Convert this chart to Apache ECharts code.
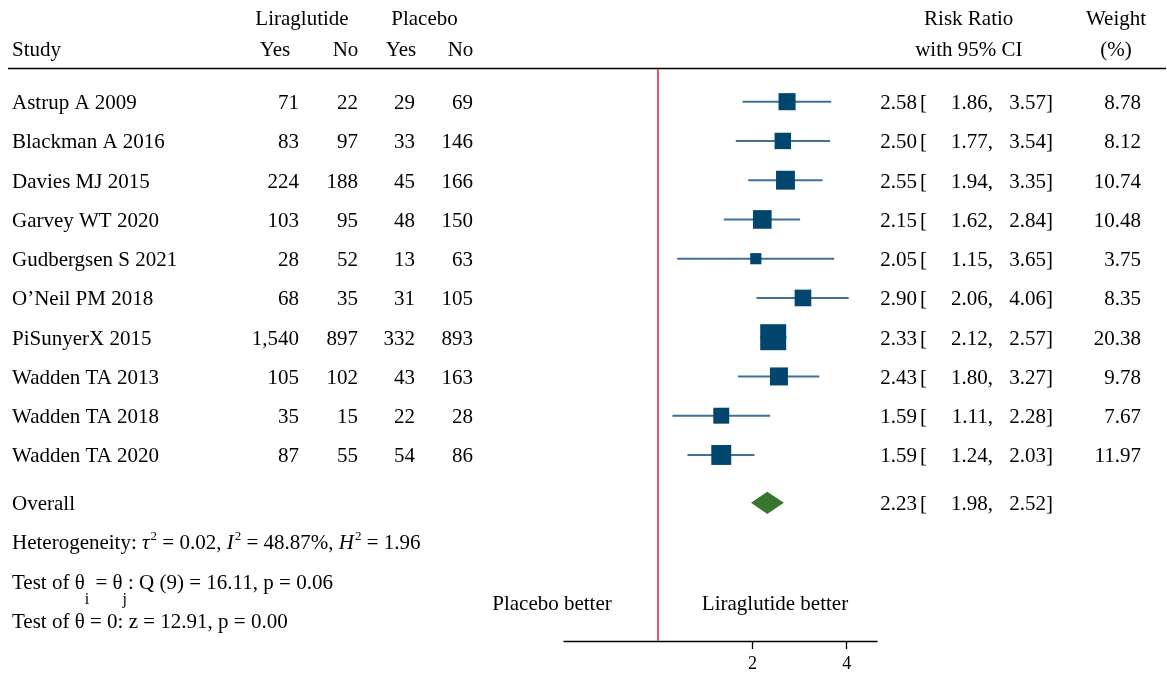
<!DOCTYPE html>
<html>
<head>
<meta charset="utf-8">
<script src="https://cdn.jsdelivr.net/npm/echarts@6/dist/echarts.min.js"></script>
<style>
html,body{margin:0;padding:0;background:#fff;}
#c{width:1167px;height:673px;}
</style>
</head>
<body>
<div id="c"></div>
<script>
// ---------------- data ----------------
const studies = ['Astrup A 2009', 'Blackman A 2016', 'Davies MJ 2015', 'Garvey WT 2020', 'Gudbergsen S 2021',
  'O\u2019Neil PM 2018', 'PiSunyerX 2015', 'Wadden TA 2013', 'Wadden TA 2018', 'Wadden TA 2020'];
const ligYes = [71, 83, 224, 103, 28, 68, 1540, 105, 35, 87];
const ligNo  = [22, 97, 188, 95, 52, 35, 897, 102, 15, 55];
const plaYes = [29, 33, 45, 48, 13, 31, 332, 43, 22, 54];
const plaNo  = [69, 146, 166, 150, 63, 105, 893, 163, 28, 86];
const rr     = [2.58, 2.50, 2.55, 2.15, 2.05, 2.90, 2.33, 2.43, 1.59, 1.59];
const ciLo   = [1.86, 1.77, 1.94, 1.62, 1.15, 2.06, 2.12, 1.80, 1.11, 1.24];
const ciHi   = [3.57, 3.54, 3.35, 2.84, 3.65, 4.06, 2.57, 3.27, 2.28, 2.03];
const weight = [8.78, 8.12, 10.74, 10.48, 3.75, 8.35, 20.38, 9.78, 7.67, 11.97];
const overallRR = [2.23];
const overallLo = [1.98];
const overallHi = [2.52];
const axisTicks = [2, 4];
const axisRange = [0.5, 5];

// ---------------- style ----------------
const FF = '"Liberation Serif","Times New Roman",serif';
const F21 = '21px ' + FF;
const NAVY = '#00466e';
const CI_COLOR = '#3f7095';
const GREEN = '#38752f';
const RED = '#e4405f';
const OVERALL_ROW = 10.22;

const L2 = v => Math.log2(v);
const chart = echarts.init(document.getElementById('c'), null, {renderer: 'canvas'});

const ciData = studies.map((s, i) => [L2(ciLo[i]), L2(ciHi[i]), i]);
const sqData = studies.map((s, i) => [L2(rr[i]), i, weight[i]]);
const diaData = overallRR.map((v, i) => [L2(overallLo[i]), L2(v), L2(overallHi[i]), OVERALL_ROW]);

chart.setOption({
  animation: false,
  grid: {left: 564, width: 313, top: 69, bottom: 32},
  xAxis: {
    type: 'value', min: L2(axisRange[0]), max: L2(axisRange[1]),
    position: 'bottom',
    splitLine: {show: false},
    axisLine: {onZero: false, lineStyle: {color: '#000', width: 1.3}},
    axisTick: {customValues: axisTicks.map(L2), length: 8, lineStyle: {color: '#000', width: 1.3}},
    axisLabel: {customValues: axisTicks.map(L2), formatter: v => String(Math.round(Math.pow(2, v))),
      fontFamily: FF, fontSize: 18, color: '#000', margin: 14}
  },
  yAxis: {type: 'value', inverse: true, min: -0.833, max: 13.74, show: false},
  series: [
    {
      type: 'custom', z: 2, silent: true,
      data: ciData,
      renderItem: function (params, api) {
        const y = api.value(2);
        const p1 = api.coord([api.value(0), y]);
        const p2 = api.coord([api.value(1), y]);
        return {type: 'line', shape: {x1: p1[0], y1: p1[1], x2: p2[0], y2: p2[1]},
          style: {stroke: CI_COLOR, lineWidth: 1.9}};
      }
    },
    {
      type: 'scatter', z: 3, silent: true,
      symbol: 'rect',
      data: sqData,
      symbolSize: d => 5.76 * Math.sqrt(d[2]),
      itemStyle: {color: NAVY, opacity: 1},
      markLine: {
        silent: true, symbol: ['none', 'none'], label: {show: false},
        lineStyle: {color: RED, width: 1.8, type: 'solid'},
        data: [{xAxis: L2(1)}]
      }
    },
    {
      type: 'custom', z: 3, silent: true,
      data: diaData,
      renderItem: function (params, api) {
        const y = api.value(3);
        const pL = api.coord([api.value(0), y]);
        const pC = api.coord([api.value(1), y]);
        const pR = api.coord([api.value(2), y]);
        const h = 11.2;
        return {type: 'polygon',
          shape: {points: [[pL[0], pL[1]], [pC[0], pC[1] - h], [pR[0], pR[1]], [pC[0], pC[1] + h]]},
          style: {fill: GREEN}};
      }
    }
  ]
});

// ---------------- text (table) ----------------
const rowY = i => chart.convertToPixel({yAxisIndex: 0}, i);
const g = [];
function txt(s, x, y, align, font) {
  g.push({type: 'text', silent: true,
    style: {text: s, x: x, y: y, font: font || F21, fill: '#000', textAlign: align || 'left', textVerticalAlign: 'middle'}});
}
const fmtInt = v => v.toLocaleString('en-US');

// header
txt('Liraglutide', 302, 19.5, 'center');
txt('Placebo', 424.5, 19.5, 'center');
txt('Study', 12, 50, 'left');
txt('Yes', 275, 50, 'center');
txt('No', 345.5, 50, 'center');
txt('Yes', 401, 50, 'center');
txt('No', 460.5, 50, 'center');
txt('Risk Ratio', 968.7, 19.5, 'center');
txt('with 95% CI', 968.8, 50, 'center');
txt('Weight', 1116, 19.5, 'center');
txt('(%)', 1116, 50, 'center');
g.push({type: 'line', silent: true, shape: {x1: 8, y1: 68.5, x2: 1166, y2: 68.5}, style: {stroke: '#000', lineWidth: 1.5}});

studies.forEach((s, i) => {
  const y = rowY(i) + 2;
  txt(s, 12, y, 'left');
  txt(fmtInt(ligYes[i]), 299, y, 'right');
  txt(fmtInt(ligNo[i]), 358, y, 'right');
  txt(fmtInt(plaYes[i]), 415, y, 'right');
  txt(fmtInt(plaNo[i]), 473, y, 'right');
  txt(rr[i].toFixed(2), 917, y, 'right');
  txt('[', 920, y, 'left');
  txt(ciLo[i].toFixed(2) + ',', 993, y, 'right');
  txt(ciHi[i].toFixed(2) + ']', 1053, y, 'right');
  txt(weight[i].toFixed(2), 1141, y, 'right');
});
{
  const y = rowY(OVERALL_ROW) + 2;
  txt('Overall', 12, y, 'left');
  txt(overallRR[0].toFixed(2), 917, y, 'right');
  txt('[', 920, y, 'left');
  txt(overallLo[0].toFixed(2) + ',', 993, y, 'right');
  txt(overallHi[0].toFixed(2) + ']', 1053, y, 'right');
}

// rich lines: main tokens padded at top so superscripts can sit higher
const PM = 3;
const richBase = {
  n: {font: F21, fontSize: 21, fontFamily: FF, lineHeight: 21, verticalAlign: 'top', padding: [PM, 0, 0, 0]},
  i: {font: 'italic 21px ' + FF, fontSize: 21, fontFamily: FF, fontStyle: 'italic', lineHeight: 21, verticalAlign: 'top', padding: [PM, 0, 0, 0]},
  s: {font: '13px ' + FF, fontSize: 13, fontFamily: FF, lineHeight: 13, verticalAlign: 'top', padding: [0, 0, 0, 1]},
  b: {font: '16px ' + FF, fontSize: 16, fontFamily: FF, lineHeight: 16, verticalAlign: 'top', padding: [PM + 19, 1, 0, 0]}
};
function rich(s, x, top) {
  g.push({type: 'text', silent: true,
    style: {text: s, x: x, y: top, font: F21, fill: '#000', textAlign: 'left', textVerticalAlign: 'top', rich: richBase}});
}
rich('{n|Heterogeneity: }{i|\u03c4}{s|2}{n| = 0.02, }{i|I}{s|2}{n| = 48.87%, }{i|H}{s|2}{n| = 1.96}', 12, 543.8 - 10.5 - PM);
rich('{n|Test of \u03b8}{b|i}{n| = \u03b8}{b|j}{n|: Q (9) = 16.11, p = 0.06}', 12, 583.3 - 10.5 - PM);
txt('Test of \u03b8 = 0: z = 12.91, p = 0.00', 12, 622.7, 'left');
txt('Placebo better', 552, 604.7, 'center');
txt('Liraglutide better', 775, 604.7, 'center');

chart.setOption({graphic: {elements: g}});
</script>
</body>
</html>
